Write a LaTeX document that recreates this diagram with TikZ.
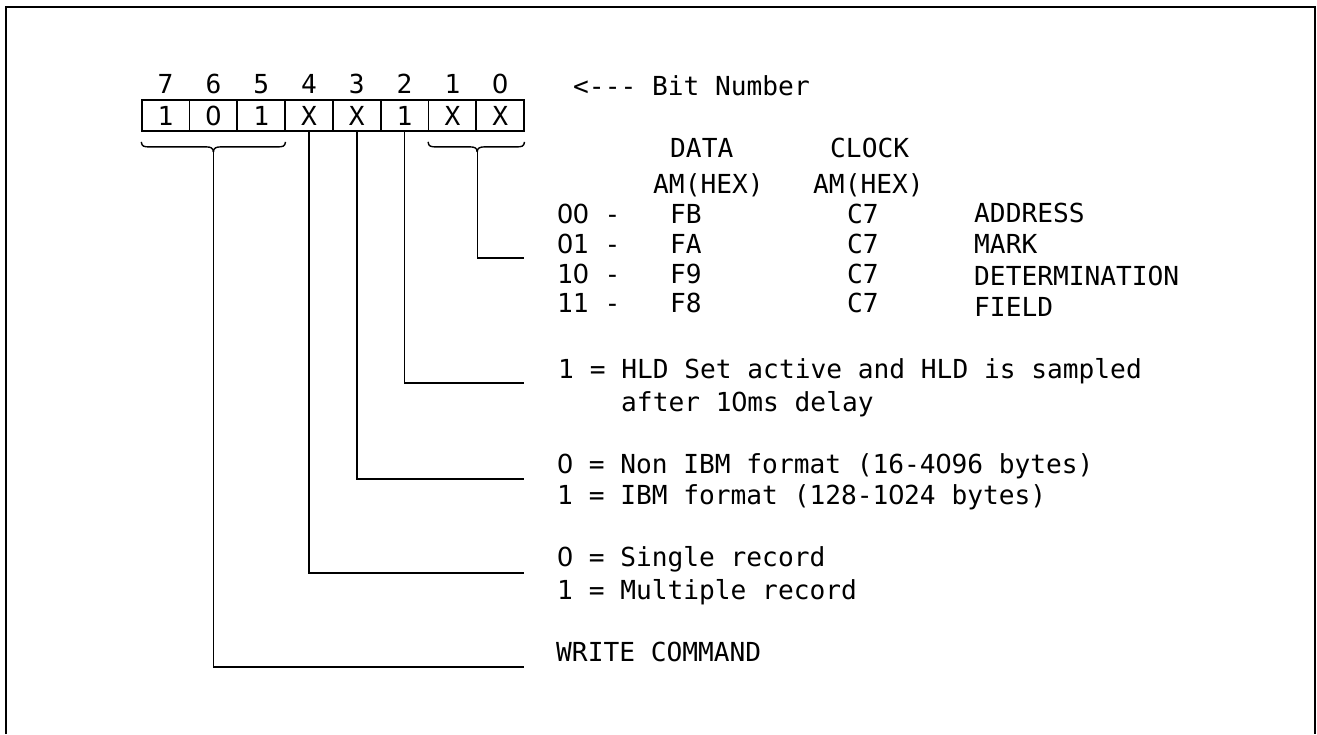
\documentclass[tikz,border=0pt]{standalone}
\usepackage{fontspec}
\newfontfamily\monofam{DejaVu Sans Mono}
\newfontfamily\plainsansfam{DejaVu Sans}
\newcommand\reffont{\monofam\fontsize{26.2}{30}\selectfont}
\newcommand\zr{\makebox[0.602em]{\plainsansfam 0}}
\usetikzlibrary{calc}
\tikzset{
  cell/.style={draw, line width=1.8pt, minimum width=47.8pt, minimum height=31pt, inner sep=0pt, font=\reffont},
  txt/.style={anchor=base west, inner sep=0pt, font=\reffont},
  ctxt/.style={anchor=base, inner sep=0pt, font=\reffont},
  lead/.style={line width=1.4pt},
  framel/.style={line width=2pt}
}
\begin{document}
\begin{tikzpicture}[x=1pt,y=-1pt]
\useasboundingbox (0,0) rectangle (1317,734);
% frame
\draw[framel] (6,734) -- (6,7) -- (1315,7) -- (1315,734);
% cells
\foreach \k/\v/\l [count=\i from 0] in {7/1/7,6/\zr/6,5/1/5,4/X/4,3/X/3,2/1/2,1/X/1,0/X/\zr}{
  \node[cell] (c\k) at (165.6+47.8*\i,115.5) {\v};
  \node[ctxt] (n\k) at (165.6+47.8*\i,93) {\l};
}
\node[txt] (bitnum) at (573,95) {<--- Bit Number};
% braces
\coordinate (s765) at ($(c6.south)+(0,20)$);
\coordinate (s10) at ($(c1.south east)+(0,20)$);
\draw[lead] ($(c7.south west)+(0.5,10)$) .. controls ($(c7.south west)+(1,14.5)$) and ($(c7.south west)+(3,15)$) .. ($(c7.south west)+(9,15)$)
  -- ($(s765)+(-7,-5)$) .. controls ($(s765)+(-3,-5)$) and ($(s765)+(0,-4)$) .. (s765);
\draw[lead] ($(c5.south east)+(-0.5,10)$) .. controls ($(c5.south east)+(-1,14.5)$) and ($(c5.south east)+(-3,15)$) .. ($(c5.south east)+(-9,15)$)
  -- ($(s765)+(7,-5)$) .. controls ($(s765)+(3,-5)$) and ($(s765)+(0,-4)$) .. (s765);
\draw[lead] ($(c1.south west)+(0.5,10)$) .. controls ($(c1.south west)+(1,14.5)$) and ($(c1.south west)+(3,15)$) .. ($(c1.south west)+(9,15)$)
  -- ($(s10)+(-7,-5)$) .. controls ($(s10)+(-3,-5)$) and ($(s10)+(0,-4)$) .. (s10);
\draw[lead] ($(c0.south east)+(-0.5,10)$) .. controls ($(c0.south east)+(-1,14.5)$) and ($(c0.south east)+(-3,15)$) .. ($(c0.south east)+(-9,15)$)
  -- ($(s10)+(7,-5)$) .. controls ($(s10)+(3,-5)$) and ($(s10)+(0,-4)$) .. (s10);
% leader end points
\coordinate (e10) at (524,258);
\coordinate (e2) at (524,383);
\coordinate (e3) at (524,479);
\coordinate (e4) at (524,573);
\coordinate (e765) at (524,667);
\draw[lead] (s10) |- (e10);
\draw[lead] (c2.south) |- (e2);
\draw[lead] (c3.south) |- (e3);
\draw[lead] (c4.south) |- (e4);
\draw[lead] (s765) |- (e765);
% table header
\node[txt] (hdata) at (670,157) {DATA};
\node[txt] (hclock) at (830,157) {CLOCK};
\node[txt] (hamd) at (653,193) {AM(HEX)};
\node[txt] (hamc) at (813,193) {AM(HEX)};
% table rows
\node[txt] (r0) at (557,223) {\zr\zr{} -};
\node[txt] (r1) at (557,253) {\zr1 -};
\node[txt] (r2) at (557,283) {1\zr{} -};
\node[txt] (r3) at (557,312) {11 -};
\node[txt] (d0) at (670,223) {FB};
\node[txt] (d1) at (670,253) {FA};
\node[txt] (d2) at (670,283) {F9};
\node[txt] (d3) at (670,312) {F8};
\node[txt] (k0) at (847,223) {C7};
\node[txt] (k1) at (847,253) {C7};
\node[txt] (k2) at (847,283) {C7};
\node[txt] (k3) at (847,312) {C7};
\node[txt] (w0) at (974,222) {ADDRESS};
\node[txt] (w1) at (974,253) {MARK};
\node[txt] (w2) at (974,285) {DETERMINATION};
\node[txt] (w3) at (974,316) {FIELD};
% descriptions
\node[txt] (t2a) at (558,378.5) {1 = HLD Set active and HLD is sampled};
\node[txt] (t2b) at (621,411.5) {after 1\zr ms delay};
\node[txt] (t3a) at (557,473.5) {\zr{} = Non IBM format (16-4\zr96 bytes)};
\node[txt] (t3b) at (557,504) {1 = IBM format (128-1\zr24 bytes)};
\node[txt] (t4a) at (557,566.5) {\zr{} = Single record};
\node[txt] (t4b) at (557,599) {1 = Multiple record};
\node[txt] (t765) at (556,661.5) {WRITE COMMAND};
\end{tikzpicture}
\end{document}
